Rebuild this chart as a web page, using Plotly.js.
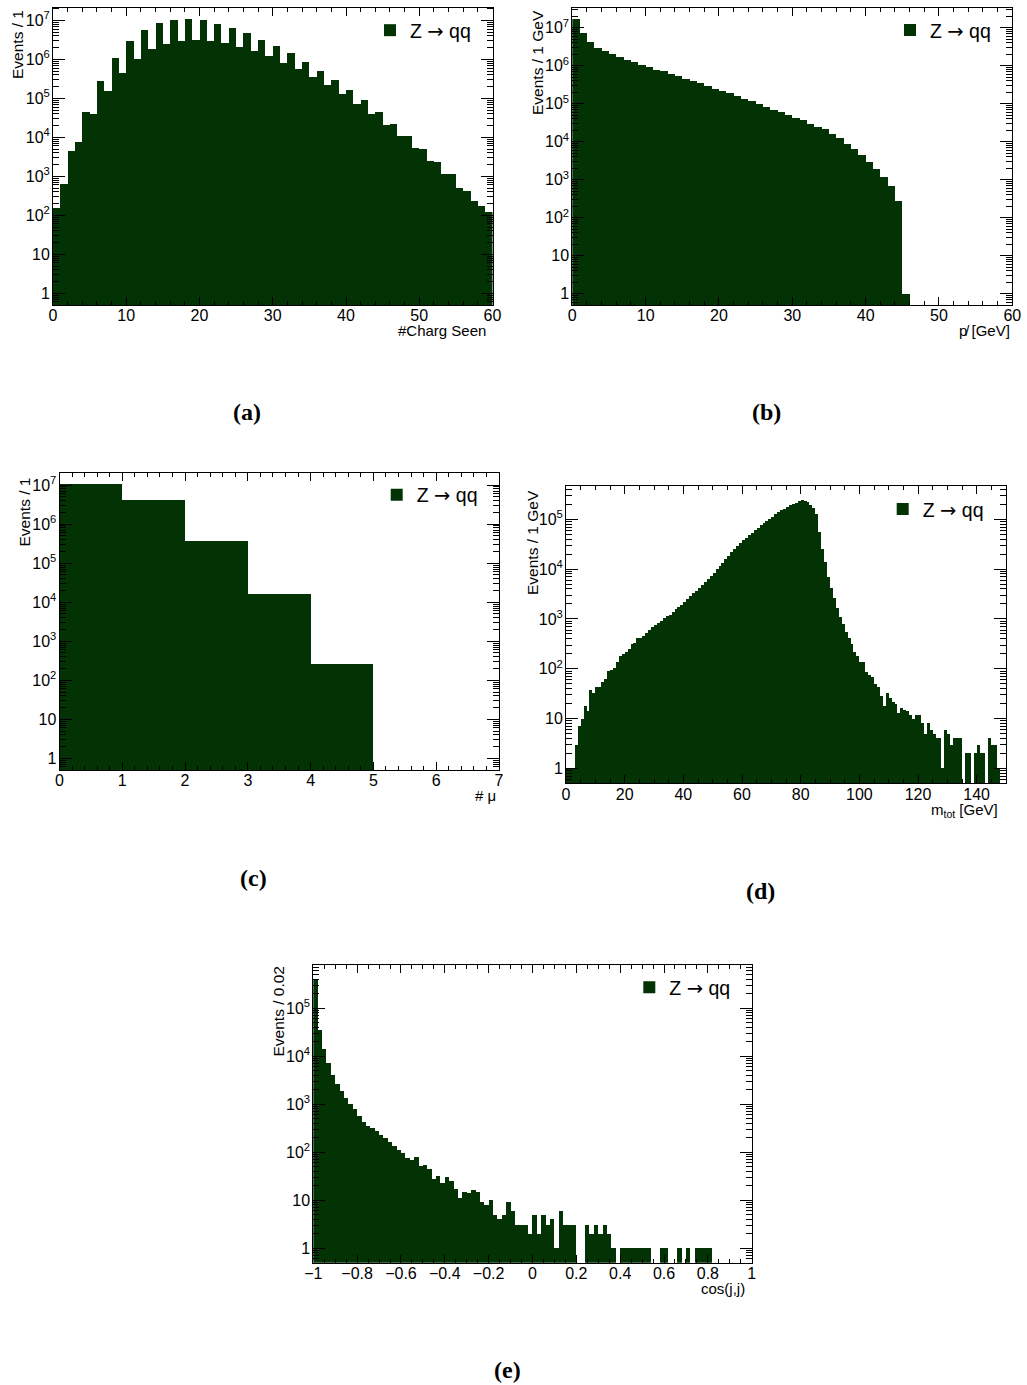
<!DOCTYPE html>
<html><head><meta charset="utf-8">
<script src="https://cdn.plot.ly/plotly-3.0.1.min.js"></script>
<style>html,body{margin:0;padding:0;background:#fff}#chart{width:1027px;height:1385px}</style>
</head><body><div id="chart"></div>
<script>
// ---------------- DATA ----------------
// (a) number of charged particles seen, bins of width 1 from 0 to 60
const chargSeenLow = 0, chargSeenWidth = 1;
const chargSeenCounts = [150, 650, 4400, 7600, 44000, 40000, 280000, 150000, 1070000, 450000,
  2900000, 1000000, 5800000, 1800000, 8700000, 2500000, 10500000, 3000000, 11000000, 3100000,
  10000000, 3000000, 8200000, 2600000, 6500000, 2100000, 4700000, 1600000, 3200000, 1200000,
  2200000, 830000, 1450000, 550000, 870000, 355000, 510000, 214000, 290000, 126000,
  162000, 72000, 89000, 39000, 44000, 21000, 22400, 10700, 11000, 5250,
  5000, 2500, 2400, 1170, 1120, 500, 430, 230, 170, 125];

// (b) missing momentum [GeV], bins of 1 GeV from 0 to 60
const missPLow = 0, missPWidth = 1;
const missPCounts = [17000000, 7400000, 4200000, 3000000, 2400000, 2000000, 1700000, 1450000, 1230000, 1070000,
  910000, 790000, 710000, 620000, 520000, 450000, 390000, 340000, 290000, 245000,
  210000, 186000, 155000, 135000, 115000, 98000, 81000, 69000, 60000, 51000,
  43000, 36000, 29500, 25000, 21000, 16000, 12600, 8900, 6300, 4400,
  2900, 1860, 1170, 690, 280, 1, 0, 0, 0, 0,
  0, 0, 0, 0, 0, 0, 0, 0, 0, 0];

// (c) number of muons, bins of 1 from 0 to 7
const nMuLow = 0, nMuWidth = 1;
const nMuCounts = [11000000, 4100000, 370000, 16000, 260, 0, 0];

// (d) total mass [GeV], bins of 1 GeV from 0 to 150
const mTotLow = 0, mTotWidth = 1;
const mTotCounts = [1, 1, 1, 3, 7, 10, 18, 14, 38, 33,
  43, 43, 55, 63, 91, 94, 106, 134, 178, 195,
  220, 244, 316, 326, 417, 417, 447, 525, 600, 676,
  760, 813, 891, 1070, 1150, 1200, 1410, 1580, 1740, 1910,
  2240, 2510, 2890, 3300, 3640, 4150, 4780, 5620, 6460, 7440,
  8530, 10000, 11600, 13500, 15900, 18300, 22000, 25600, 29400, 34100,
  37800, 42300, 47600, 54000, 61000, 68000, 77000, 86000, 94000, 103000,
  113000, 126000, 138000, 151000, 164000, 179000, 190000, 203000, 216000, 230000,
  240000, 236000, 222000, 197000, 170000, 126000, 56600, 25000, 14200, 6900,
  4150, 2620, 1660, 1080, 780, 560, 410, 310, 222, 178,
  134, 134, 85, 76, 67, 50, 43, 29, 18, 32,
  26, 22, 20, 13, 16, 15, 14, 12, 10, 12,
  12, 8, 5, 8, 6, 5, 4, 4, 1, 6,
  5, 3, 4, 4, 4, 0, 2, 2, 0, 2,
  3, 2, 2, 0, 4, 3, 3, 1, 0, 0];

// (e) cos(j,j), bins of 0.02 from -1 to 1
const cosJJLow = -1, cosJJWidth = 0.02;
const cosJJCounts = [410000, 35000, 14000, 7100, 4000, 2650, 1850, 1340, 1010, 790,
  580, 430, 360, 325, 278, 230, 196, 162, 132, 112,
  96, 76, 70, 78, 53, 55, 45, 28, 32, 23,
  31, 25, 17, 11, 15, 14, 16, 15, 9, 8,
  10, 5, 4, 5, 9, 6, 3, 3, 3, 2,
  5, 2, 5, 3, 4, 1, 6, 3, 3, 3,
  0, 0, 3, 2, 3, 2, 3, 2, 1, 0,
  1, 1, 1, 1, 1, 1, 1, 0, 0, 1,
  1, 0, 0, 1, 0, 1, 0, 1, 1, 1,
  1, 0, 0, 0, 0, 0, 0, 0, 0, 0];

const legendLabel = 'Z <span style="font-family:DejaVu Sans">\u2192</span> qq';
const xTitles = ['#Charg Seen', 'p\u0338 [GeV]', '# \u03bc', 'm<sub>tot</sub> [GeV]', 'cos(j,j)'];
const yTitles = ['Events / 1', 'Events / 1 GeV', 'Events / 1', 'Events / 1 GeV', 'Events / 0.02'];
const panelLabels = ['(a)', '(b)', '(c)', '(d)', '(e)'];

// ---------------- STYLE / LAYOUT ----------------
const W = 1027, H = 1385;
const FILL = '#033305';
const SANS = 'Liberation Sans, Arial, Helvetica, sans-serif';
const SERIF = 'Liberation Serif, DejaVu Serif, serif';
const fx = p => p / W;
const fy = p => 1 - p / H;

// pixel boxes of each plot frame [left, right, top, bottom]
const boxes = [
  [53, 492.5, 7.5, 305],
  [572.3, 1012.3, 7.5, 305],
  [59.5, 499, 472.7, 770],
  [566, 1006, 486, 783.3],
  [313.3, 751.7, 965, 1262.7]
];
const xRanges = [[0, 60], [0, 60], [0, 7], [0, 150], [-1, 1]];
const xMajor = [10, 10, 1, 20, 0.2];
const xMinor = [2, 2, 0.2, 5, 0.05];
const yTops = [7.33, 7.53, 7.32, 5.67, 5.9];

function hist(counts, lo, width, idx) {
  const x = counts.map((_, i) => lo + (i + 0.5) * width);
  const sfx = idx === 0 ? '' : String(idx + 1);
  return {
    type: 'bar', x: x, y: counts, width: counts.map(() => width),
    marker: {color: FILL, line: {width: 0}},
    name: legendLabel, xaxis: 'x' + sfx, yaxis: 'y' + sfx,
    legend: 'legend' + sfx, showlegend: true, hoverinfo: 'skip'
  };
}

const data = [
  hist(chargSeenCounts, chargSeenLow, chargSeenWidth, 0),
  hist(missPCounts, missPLow, missPWidth, 1),
  hist(nMuCounts, nMuLow, nMuWidth, 2),
  hist(mTotCounts, mTotLow, mTotWidth, 3),
  hist(cosJJCounts, cosJJLow, cosJJWidth, 4)
];

const tickFont = {family: SANS, size: 16, color: '#000'};

function xAxis(i) {
  const b = boxes[i];
  const sfx = i === 0 ? '' : String(i + 1);
  return {
    domain: [fx(b[0]), fx(b[1])], anchor: 'y' + sfx, range: xRanges[i],
    tickmode: 'linear', tick0: xRanges[i][0], dtick: xMajor[i],
    ticks: 'inside', ticklen: 8, tickwidth: 1, tickcolor: '#000',
    minor: {tickmode: 'linear', tick0: xRanges[i][0], dtick: xMinor[i], ticks: 'inside', ticklen: 4, tickwidth: 1, tickcolor: '#000', showgrid: false},
    showline: true, linecolor: '#000', linewidth: 1, mirror: 'allticks',
    ticklabelstandoff: -4,
    showgrid: false, zeroline: false, tickfont: tickFont, fixedrange: true
  };
}
function yAxis(i) {
  const b = boxes[i];
  const sfx = i === 0 ? '' : String(i + 1);
  const top = yTops[i];
  const tv = [], tt = [], mv = [];
  for (let d = 0; d <= Math.floor(top); d++) {
    tv.push(Math.pow(10, d));
    tt.push(d === 0 ? '1' : d === 1 ? '10' : '10<sup>' + d + '</sup>');
  }
  for (let d = -1; d <= Math.floor(top); d++) {
    for (let k = 2; k <= 9; k++) {
      const v = k * Math.pow(10, d);
      if (Math.log10(v) < top && Math.log10(v) > -0.3) mv.push(v);
    }
  }
  return {
    type: 'log', domain: [fy(b[3]), fy(b[2])], anchor: 'x' + sfx, range: [-0.3, top],
    tickmode: 'array', tickvals: tv, ticktext: tt,
    ticks: 'inside', ticklen: 12, tickwidth: 1, tickcolor: '#000',
    minor: {tickmode: 'array', tickvals: mv, ticks: 'inside', ticklen: 6, tickwidth: 1, tickcolor: '#000', showgrid: false},
    showline: true, linecolor: '#000', linewidth: 1, mirror: 'allticks',
    ticklabelstandoff: -1,
    showgrid: false, zeroline: false, tickfont: tickFont, fixedrange: true
  };
}

const layout = {
  width: W, height: H, margin: {l: 0, r: 0, t: 0, b: 0},
  paper_bgcolor: '#fff', plot_bgcolor: '#fff',
  bargap: 0, barmode: 'overlay', showlegend: true,
  annotations: [], shapes: []
};
for (let i = 0; i < 5; i++) {
  const sfx = i === 0 ? '' : String(i + 1);
  layout['xaxis' + sfx] = xAxis(i);
  layout['yaxis' + sfx] = yAxis(i);
}

// legends: [text start x px, item center y px]
const legendPos = [[405, 31.5], [925, 31.3], [411.7, 496], [917.7, 510.3], [664.3, 988.5]];
legendPos.forEach((p, i) => {
  const sfx = i === 0 ? '' : String(i + 1);
  layout['legend' + sfx] = {
    x: fx(p[0] - 35), y: fy(p[1] - 20.5), xanchor: 'left', yanchor: 'top',
    bgcolor: 'rgba(0,0,0,0)', borderwidth: 0,
    font: {family: SANS, size: 19.5, color: '#000'}, itemclick: false, itemdoubleclick: false
  };
});

// x titles: [right edge px, center y px]
const xTitlePos = [[488, 330], [1012, 330], [498, 795], [1000, 810], [747, 1288]];
// y titles: [center x px, top y px]
const yTitlePos = [[17.5, 8], [537.5, 8], [24, 476], [532.5, 488], [277.5, 965]];
// panel labels: [center x px, center y px]
const panelPos = [[247, 412], [766, 412], [253, 878], [760, 891], [507, 1370]];

for (let i = 0; i < 5; i++) {
  layout.annotations.push({
    text: xTitles[i], xref: 'paper', yref: 'paper', x: fx(xTitlePos[i][0]), y: fy(xTitlePos[i][1]),
    xanchor: 'right', yanchor: 'middle', showarrow: false, font: {family: SANS, size: 15, color: '#000'}
  });
  layout.annotations.push({
    text: yTitles[i], xref: 'paper', yref: 'paper', x: fx(yTitlePos[i][0]), y: fy(yTitlePos[i][1]),
    xanchor: 'center', yanchor: 'top', textangle: -90, showarrow: false, font: {family: SANS, size: 15.5, color: '#000'}
  });
  layout.annotations.push({
    text: '<b>' + panelLabels[i] + '</b>', xref: 'paper', yref: 'paper', x: fx(panelPos[i][0]), y: fy(panelPos[i][1]),
    xanchor: 'center', yanchor: 'middle', showarrow: false, font: {family: SERIF, size: 24, color: '#000'}
  });
}

Plotly.newPlot('chart', data, layout, {staticPlot: true, displayModeBar: false});
</script>
</body></html>
